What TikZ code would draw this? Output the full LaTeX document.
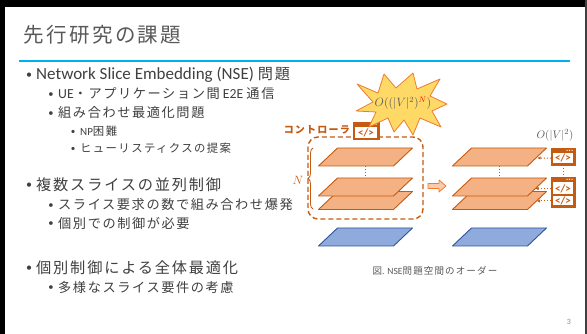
\documentclass[tikz,border=0pt]{standalone}
\usepackage{fontspec}
\setmainfont{Carlito}
\newfontfamily\jp{Noto Sans CJK JP}[LetterSpace=12]
\usetikzlibrary{arrows.meta,decorations.pathreplacing,calc}

\definecolor{txt}{HTML}{404040}
\definecolor{soft}{HTML}{595959}
\definecolor{rulecol}{HTML}{00B0F0}
\definecolor{orfill}{HTML}{F4B183}
\definecolor{ordraw}{HTML}{C55A11}
\definecolor{blfill}{HTML}{8FAADC}
\definecolor{bldraw}{HTML}{2F5597}
\definecolor{boomfill}{HTML}{FFD966}
\definecolor{boomdraw}{HTML}{ED7D31}
\definecolor{arrfill}{HTML}{F8CBAD}

% one slice plane: style, bottom-left corner x, top y
\newcommand{\plane}[3]{%
  \draw[#1] (#2,#3+18) -- ++(75,0) -- ++(19,-18) -- ++(-75,0) -- cycle;}
% Japanese sizes per list level
\newcommand{\jA}{\jp\fontsize{15.2}{15.2}\selectfont}
\newcommand{\jB}{\jp\fontsize{13.2}{13.2}\selectfont}
\newcommand{\jC}{\jp\fontsize{11.4}{11.4}\selectfont}

\begin{document}
\begin{tikzpicture}[x=1pt,y=-1pt,
  body/.style={anchor=west,inner sep=0,text=txt},
  lvA/.style={body,font=\fontsize{17}{17}\selectfont},
  lvB/.style={body,font=\fontsize{13.8}{13.8}\selectfont},
  lvC/.style={body,font=\fontsize{11}{11}\selectfont},
  dotA/.style={inner sep=0,text=txt,font=\fontsize{12}{12}\selectfont},
  dotB/.style={inner sep=0,text=txt,font=\fontsize{10.5}{10.5}\selectfont},
  dotC/.style={inner sep=0,text=txt,font=\fontsize{9}{9}\selectfont},
  slice/.style={fill=orfill,draw=ordraw,line width=0.9pt,line join=round},
  ground/.style={fill=blfill,draw=bldraw,line width=0.9pt,line join=round},
  iconbox/.style={rectangle,fill=ordraw,draw=ordraw,inner sep=0},
  iconface/.style={rectangle,fill=white,inner sep=0,text=ordraw,
    font=\bfseries\fontsize{11}{11}\selectfont},
  dotlink/.style={draw=ordraw,dotted,line width=1pt},
  dotarrow/.style={dotlink,-{Latex[length=3pt,width=3.5pt]}},
]
\useasboundingbox (0,0) rectangle (587,334);
\fill[white] (0,0) rectangle (587,334);
% slide frame
\fill[black] (0,0) rectangle (587,7);
\fill[black] (0,0) rectangle (5,334);
\fill[black!75] (585,0) rectangle (587,334);

% title and rule
\node[body,text=soft,font=\jp\fontsize{20.5}{20.5}\selectfont] (title) at (23,35) {先行研究の課題};
\draw[rulecol,line width=2.5pt] (19,61) -- (570,61);

% bullet list
\node[dotA] (b1) at (29,76) {•};
\node[lvA] (t1) at (36,75) {Network Slice Embedding (NSE) {\jA 問題}};
\node[dotB] (b2) at (51,95) {•};
\node[lvB] (t2) at (58,94) {UE{\jB ・アプリケーション間} E2E {\jB 通信}};
\node[dotB] (b3) at (51,114) {•};
\node[lvB] (t3) at (58,113) {\jB 組み合わせ最適化問題};
\node[dotC] (b4) at (73,132) {•};
\node[lvC] (t4) at (80,131) {NP{\jC 困難}};
\node[dotC] (b5) at (73,149) {•};
\node[lvC] (t5) at (80,148) {\jC ヒューリスティクスの提案};
\node[dotA] (b6) at (29,186) {•};
\node[lvA] (t6) at (36,185) {\jA 複数スライスの並列制御};
\node[dotB] (b7) at (51,206) {•};
\node[lvB] (t7) at (58,205) {\jB スライス要求の数で組み合わせ爆発};
\node[dotB] (b8) at (51,224) {•};
\node[lvB] (t8) at (58,223) {\jB 個別での制御が必要};
\node[dotA] (b9) at (29,269) {•};
\node[lvA] (t9) at (36,268) {\jA 個別制御による全体最適化};
\node[dotB] (b10) at (51,288) {•};
\node[lvB] (t10) at (58,287) {\jB 多様なスライス要件の考慮};

% ---- joint control (left stack) ----
\draw[ordraw,dashed,dash pattern=on 5pt off 3pt,line width=1.4pt,rounded corners=10pt]
  (308,137) rectangle (423,219);
\plane{slice}{318.5}{191.5}
\plane{slice}{318.5}{178}
\plane{slice}{318.5}{148}
\plane{ground}{318.5}{228}
\coordinate (la) at (365,166);
\coordinate (lb) at (365,178);
\draw[dotlink] (la) -- (lb);
\coordinate (bt) at (313,148);
\coordinate (bb) at (313,209);
\draw[ordraw,line width=0.8pt,decorate,decoration={brace,amplitude=5pt}] (bb) -- (bt);
\node[text=ordraw,font=\fontsize{13}{13}\selectfont,inner sep=0] (nlab) at (298,180) {$N$};

% controller icon
\node[iconbox,minimum width=26pt,minimum height=17pt] (ctrl) at (366,130.5) {};
\node[iconface,minimum width=22pt,minimum height=10.5pt] (ctrlface) at (366,132.5) {</>};
\foreach \dx in {0,2.5,5}
  \fill[white] (371+\dx,124.3) circle (0.7pt);
\node[anchor=east,inner sep=0,text=ordraw,font=\jp\bfseries\fontsize{10}{10}\selectfont] (clab) at (350,130) {コントローラ};

% explosion with the joint order
\draw[fill=boomfill,draw=boomdraw,line width=0.8pt,line join=round]
  (357,84) -- (378,93) -- (384,74) -- (396,88) -- (413,73) -- (417,89)
  -- (440,79) -- (430,96) -- (447,104) -- (432,111) -- (441,127) -- (420,118)
  -- (413,135) -- (404,120) -- (394,132) -- (388,118) -- (369,127) -- (376,112)
  -- (356,111) -- (373,102) -- cycle;
\node[text=soft,inner sep=0,font=\fontsize{12}{12}\selectfont] (boom) at (403,103)
  {$O((|V|^2)^{\textcolor{red}{N}})$};

% block arrow
\draw[fill=arrfill,draw=boomdraw,line width=0.8pt,line join=round]
  (428,183.5) -- (439,183.5) -- (439,180) -- (446,186) -- (439,192)
  -- (439,188.5) -- (428,188.5) -- cycle;

% ---- individual control (right stack) ----
\plane{slice}{452.5}{191.5}
\plane{slice}{452.5}{178}
\plane{slice}{452.5}{148}
\plane{ground}{452.5}{228}
\coordinate (ra) at (499,166);
\coordinate (rb) at (499,178);
\draw[dotlink] (ra) -- (rb);

\node[iconbox,minimum width=24pt,minimum height=17pt] (ico1) at (563,156.5) {};
\node[iconface,minimum width=20pt,minimum height=10.5pt] (ico1f) at (563,158.2) {</>};
\foreach \dx in {0,2.5,5}
  \fill[white] (567+\dx,150.3) circle (0.7pt);
\node[iconbox,minimum width=24pt,minimum height=30pt] (ico2) at (563,192) {};
\node[iconface,minimum width=20pt,minimum height=12pt] (ico2a) at (563,188.5) {</>};
\node[iconface,minimum width=20pt,minimum height=9pt] (ico2b) at (563,201) {</>};
\foreach \dx in {0,2.5,5}
  \fill[white] (567+\dx,179.3) circle (0.7pt);
\draw[dotlink] (ico1.south) -- (ico2.north);

\coordinate (r1e) at (537.5,158);
\coordinate (r2e) at (535.5,188.5);
\coordinate (r3e) at (537,201);
\draw[dotarrow] (ico1.west |- ico1f) -- (r1e);
\draw[dotarrow] (ico2.west |- ico2a) -- (r2e);
\draw[dotarrow] (ico2.west |- ico2b) -- (r3e);

\node[text=soft,inner sep=0,font=\fontsize{11}{11}\selectfont] (olab) at (555,135) {$O(|V|^2)$};

% caption and page number
\node[text=soft,inner sep=0,font=\fontsize{9.5}{9.5}\selectfont] (cap) at (435,271)
  {{\jp 図}. NSE{\jp 問題空間のオーダー}};
\node[text=black!45,inner sep=0,font=\fontsize{8}{8}\selectfont] (pg) at (569,322) {3};
\end{tikzpicture}
\end{document}
